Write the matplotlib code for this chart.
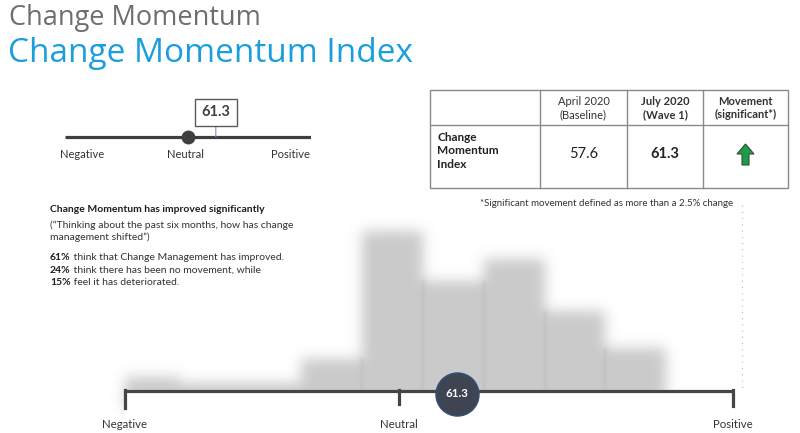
import numpy as np
import matplotlib
matplotlib.use("Agg")
import matplotlib.pyplot as plt
from matplotlib.patches import FancyArrow, Rectangle

plt.rcParams["font.family"] = ["Lato", "DejaVu Sans"]

# ---- data -------------------------------------------------------------
TITLE = "Change Momentum"
SUBTITLE = "Change Momentum Index"

INDEX_NOW = 61.3
INDEX_BASE = 57.6

# top mini scale (0 = negative, 50 = neutral, 100 = positive)
SCALE_LABELS = ["Negative", "Neutral", "Positive"]
SCALE_LABEL_POS = [7, 49, 91.5]
NEUTRAL = 50

# table
TABLE_COLS = ["April 2020\n(Baseline)", "July 2020\n(Wave 1)", "Movement\n(significant*)"]
TABLE_ROW = "Change\nMomentum\nIndex"
TABLE_VALUES = [INDEX_BASE, INDEX_NOW]
FOOTNOTE = "*Significant movement defined as more than a 2.5% change"

# commentary
HEADLINE = "Change Momentum has improved significantly"
QUESTION = ["(\u201cThinking about the past six months, how has change",
            "management shifted\u201d)"]
PCTS = [61, 24, 15]
PCT_TEXT = [" think that Change Management has improved.",
            " think there has been no movement, while",
            " feel it has deteriorated."]

# blurred distribution (share of respondents per bin, %)
BIN_EDGES = [0, 10, 20, 30, 40, 50, 60, 70, 80, 90]
BIN_SHARE = [2.2, 1.3, 1.3, 5.0, 25.0, 17.2, 20.6, 12.5, 6.7]
BOTTOM_LABELS = ["Negative", "Neutral", "Positive"]
BOTTOM_POS = [1, 46, 101]
MARKER_POS = 55.6

DARK = "#454545"


def gaussian_blur(sigma):
    def filt(img, dpi):
        pad = int(3 * sigma)
        a = np.pad(img, ((pad, pad), (pad, pad), (0, 0)))
        alpha = a[..., 3]
        mask = alpha > 0.5
        rgb = a[..., :3][mask].mean(axis=0) if mask.any() else np.zeros(3)
        x = np.arange(-pad, pad + 1)
        k = np.exp(-x ** 2 / (2 * sigma ** 2))
        k /= k.sum()
        al = np.apply_along_axis(lambda r: np.convolve(r, k, mode="same"), 0, alpha)
        al = np.apply_along_axis(lambda r: np.convolve(r, k, mode="same"), 1, al)
        out = np.empty_like(a)
        out[..., :3] = rgb
        out[..., 3] = np.clip(al, 0, 1)
        return out, -pad, -pad
    return filt


fig = plt.figure(figsize=(8, 4.33), dpi=100)

# background axes in pixel units for free text / table
bg = fig.add_axes([0, 0, 1, 1])
bg.set_xlim(0, 800)
bg.set_ylim(433, 0)
bg.axis("off")

bg.text(9, 18, TITLE, fontsize=19.5, color="#6e6e6e", va="center",
        family=["Open Sans", "DejaVu Sans"])
bg.text(8, 53, SUBTITLE, fontsize=24, color="#1a9fdc", va="center",
        family=["Open Sans", "DejaVu Sans"])

# ---- top mini scale ----------------------------------------------------
ax_top = fig.add_axes([65 / 800, (433 - 160) / 433, 246 / 800, 70 / 433])
ax_top.set_xlim(0, 100)
ax_top.set_ylim(-1, 2)
ax_top.axis("off")
ax_top.plot([0, 100], [0, 0], color="#3f3f3f", lw=2.3, solid_capstyle="butt")
ax_top.plot([NEUTRAL], [0], "o", ms=9, color="#3f3f3f")
ax_top.annotate(f"{INDEX_NOW}", xy=(INDEX_NOW, 0), xytext=(INDEX_NOW, 1.05),
                ha="center", va="center", fontsize=10.5, fontweight="bold", color="#404040",
                bbox=dict(boxstyle="square,pad=0.45", fc="white", ec="#5a5a5a", lw=1),
                arrowprops=dict(arrowstyle="-", color="#7b93b8", lw=0.8,
                                shrinkA=0, shrinkB=0))
for lab, pos in zip(SCALE_LABELS, SCALE_LABEL_POS):
    ax_top.text(pos, -0.75, lab, ha="center", va="center", fontsize=8, color="#333333")

# ---- table -------------------------------------------------------------
tl, tr, tt, tb = 430, 788, 90, 188
col_x = [540, 627, 703]
row_y = 125
lc = "#8a8a8a"
bg.add_patch(Rectangle((tl, tt), tr - tl, tb - tt, fill=False, ec=lc, lw=1))
for cx in col_x:
    bg.plot([cx, cx], [tt, tb], color=lc, lw=1)
bg.plot([tl, tr], [row_y, row_y], color=lc, lw=1)
centers = [(col_x[0] + col_x[1]) / 2, (col_x[1] + col_x[2]) / 2, (col_x[2] + tr) / 2]
for i, (c, lab) in enumerate(zip(centers, TABLE_COLS)):
    bg.text(c, 108, lab, ha="center", va="center", fontsize=8, color="#333333",
            fontweight="normal" if i == 0 else "bold", linespacing=1.3)
bg.text(437, 151, TABLE_ROW, ha="left", va="center", fontsize=8.5, color="#222222",
        fontweight="bold", linespacing=1.25)
for i, (c, v) in enumerate(zip(centers[:2], TABLE_VALUES)):
    bg.text(c, 154, f"{v}", ha="center", va="center", fontsize=10.5, color="#222222",
            fontweight="normal" if i == 0 else "bold")
if TABLE_VALUES[1] > TABLE_VALUES[0]:
    bg.add_patch(FancyArrow(centers[2], 165, 0, -21, width=7, head_width=17,
                            head_length=10, length_includes_head=True,
                            fc="#1f9b4c", ec="#2f4f35", lw=0.8))
bg.text(607, 203, FOOTNOTE, ha="center", va="center", fontsize=7, color="#333333")

# ---- commentary text ---------------------------------------------------
bg.text(50, 210, HEADLINE, fontsize=7.5, fontweight="bold", color="#1e1e1e", va="center")
for j, line in enumerate(QUESTION):
    bg.text(50, 225 + j * 12.5, line, fontsize=7.5, color="#333333", va="center")
for j, (p, t) in enumerate(zip(PCTS, PCT_TEXT)):
    b = bg.text(50, 258 + j * 12.3, f"{p}%", fontsize=7.5, fontweight="bold",
                color="#1e1e1e", va="center")
    bg.annotate(t, xy=(1, 0.5), xycoords=b, va="center", fontsize=7.5, color="#333333")

# dotted guide on the right
bg.plot([742, 742], [205, 388], color="#c4c4c4", lw=0.9, ls=(0, (1, 4)))

# ---- blurred distribution ---------------------------------------------
px_per_pct = 6.4
y_lo, y_hi = -3, 27
ax = fig.add_axes([125 / 800, (433 - 391 + y_lo * px_per_pct) / 433,
                   608 / 800, (y_hi - y_lo) * px_per_pct / 433])
ax.set_xlim(1, 101)
ax.set_ylim(y_lo, y_hi)
ax.axis("off")
st = ax.stairs(BIN_SHARE, BIN_EDGES, baseline=y_lo, fill=True, color="#cbcbcb", zorder=1)
st.set_agg_filter(gaussian_blur(6.5))
seam_h = [min(a, b) for a, b in zip(BIN_SHARE[3:-1], BIN_SHARE[4:])]
sm = ax.vlines(BIN_EDGES[4:-1], 0, seam_h, color="#bcbcbc", lw=1.2, zorder=1.5)
sm.set_agg_filter(gaussian_blur(1.5))
ax.axhspan(-8, 0, color="white", zorder=2, clip_on=False)

# axis with brackets
ax.plot([BOTTOM_POS[0], BOTTOM_POS[-1]], [0, 0], color=DARK, lw=2.3,
        solid_capstyle="butt", clip_on=False, zorder=3)
tick_len = [-2.6, -2.1, -2.3]
for pos, tl_ in zip(BOTTOM_POS, tick_len):
    ax.plot([pos, pos], [0.15, tl_], color=DARK, lw=2.3, clip_on=False, zorder=3)
for lab, pos in zip(BOTTOM_LABELS, BOTTOM_POS):
    ax.text(pos, -5.2, lab, ha="center", va="center", fontsize=8.2, color="#333333",
            clip_on=False, zorder=4)
ax.plot([MARKER_POS], [-0.4], "o", ms=31, color="#3e4451", mec="#34507a", mew=1,
        clip_on=False, zorder=4)
ax.text(MARKER_POS, -0.4, f"{INDEX_NOW}", ha="center", va="center", fontsize=8.3,
        fontweight="bold", color="white", zorder=5)

fig.savefig("out.png", dpi=100)
